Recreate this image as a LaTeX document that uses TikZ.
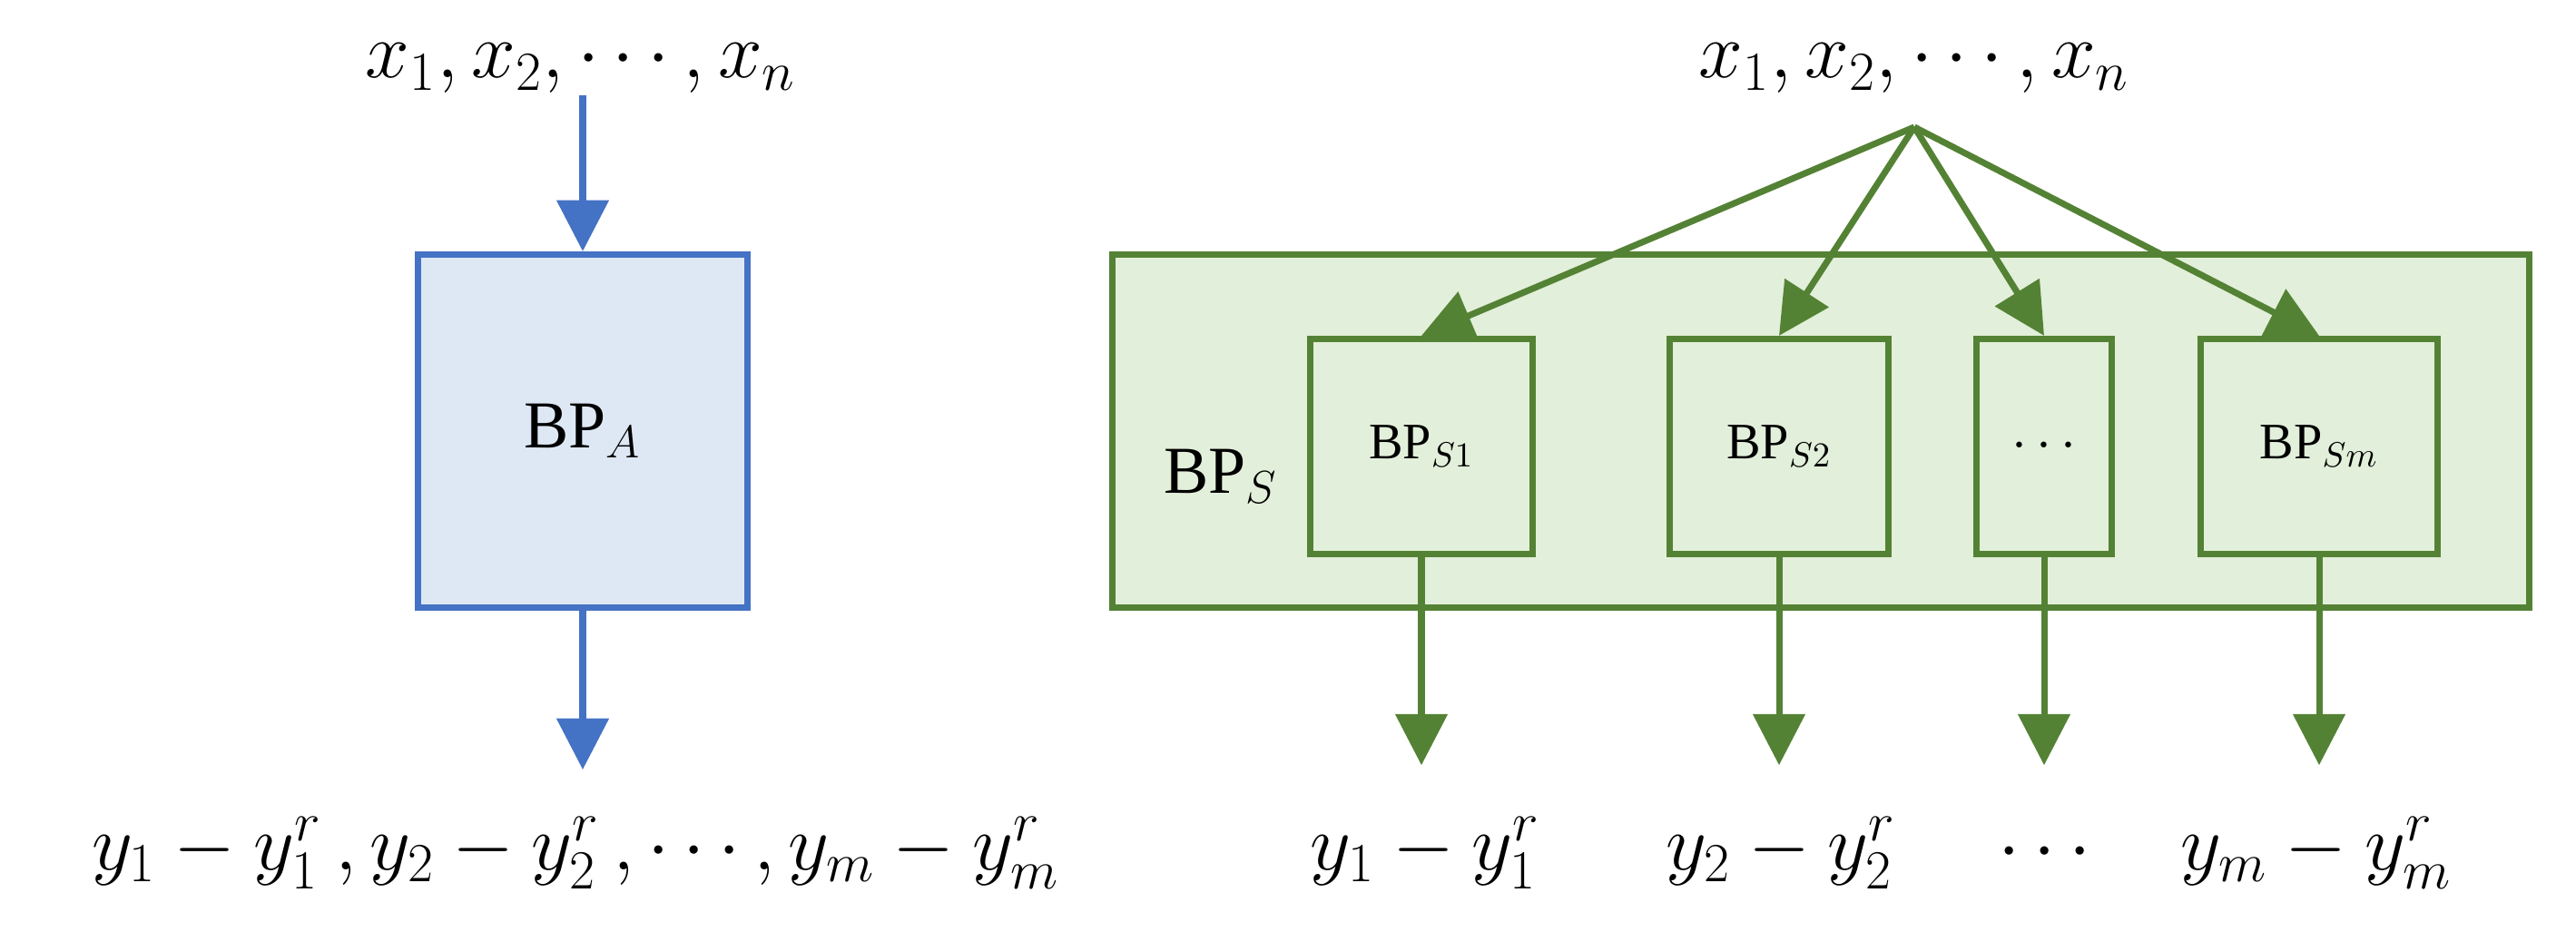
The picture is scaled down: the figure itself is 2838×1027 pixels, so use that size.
\documentclass[tikz,border=0pt]{standalone}
\usepackage{fontspec}
\setmainfont{Liberation Serif}
\usetikzlibrary{arrows.meta}
\definecolor{bblue}{HTML}{4472C4}
\definecolor{bfill}{HTML}{DEE8F5}
\definecolor{ggreen}{HTML}{548235}
\definecolor{gfill}{HTML}{E2EFDA}
\begin{document}
\begin{tikzpicture}[x=0.01cm,y=-0.01cm,
  arr/.style={line width=2pt,-{Triangle[length=16pt,width=16pt]}},
  big/.style={font=\fontsize{27}{30}\selectfont,inner sep=0pt},
  mid/.style={font=\fontsize{23}{26}\selectfont,inner sep=0pt}]
\useasboundingbox (0,0) rectangle (2838,1027);
% left
\node[mid] (lx) at (640,75) {$x_1, x_2, \cdots, x_n$};
\node[draw=bblue,fill=bfill,line width=2pt,minimum width=362*0.2845pt,minimum height=389*0.2845pt,font=\fontsize{21}{24}\selectfont] (A) at (642,475) {BP$_{A}$};
\coordinate (lxs) at (642,105);
\draw[arr,bblue] (lxs) -- (A.north);
\node[big] (ly) at (634,940) {$y_1-y_1^r\,, y_2-y_2^r\,, \cdots, y_m-y_m^r$};
\coordinate (lye) at (642,848);
\draw[arr,bblue] (A.south) -- (lye);
% right
\node[draw=ggreen,fill=gfill,line width=2pt,minimum width=1560*0.2845pt,minimum height=389*0.2845pt] (S) at (2006,475) {};
\node[font=\fontsize{21}{24}\selectfont] (Sl) at (1345,525) {BP$_{S}$};
\node[mid] (rx) at (2109,75) {$x_1, x_2, \cdots, x_n$};
\coordinate (src) at (2109,140);
\tikzset{ib/.style={draw=ggreen,line width=2pt,minimum height=237*0.2845pt,font=\fontsize{16}{20}\selectfont}}
\node[ib,minimum width=244*0.2845pt] (b1) at (1566,492) {BP$_{S1}$};
\node[ib,minimum width=241*0.2845pt] (b2) at (1960,492) {BP$_{S2}$};
\node[ib,minimum width=148*0.2845pt] (b3) at (2252,492) {$\cdots$};
\node[ib,minimum width=260*0.2845pt] (b4) at (2555,492) {BP$_{Sm}$};
\foreach \b in {b1,b2,b3,b4}{\draw[arr,ggreen] (src) -- (\b.north);}
\node[big] (y1) at (1570,940) {$y_1-y_1^r$};
\node[big] (y2) at (1962,940) {$y_2-y_2^r$};
\node[big] (y3) at (2253,940) {$\cdots$};
\node[big] (y4) at (2552,940) {$y_m-y_m^r$};
\foreach \b/\i in {b1/1,b2/2,b3/3,b4/4}{
 \coordinate (e\i) at ([yshift=-229*0.2845pt]\b.south);
 \draw[arr,ggreen] (\b.south) -- (e\i);}
\end{tikzpicture}
\end{document}
